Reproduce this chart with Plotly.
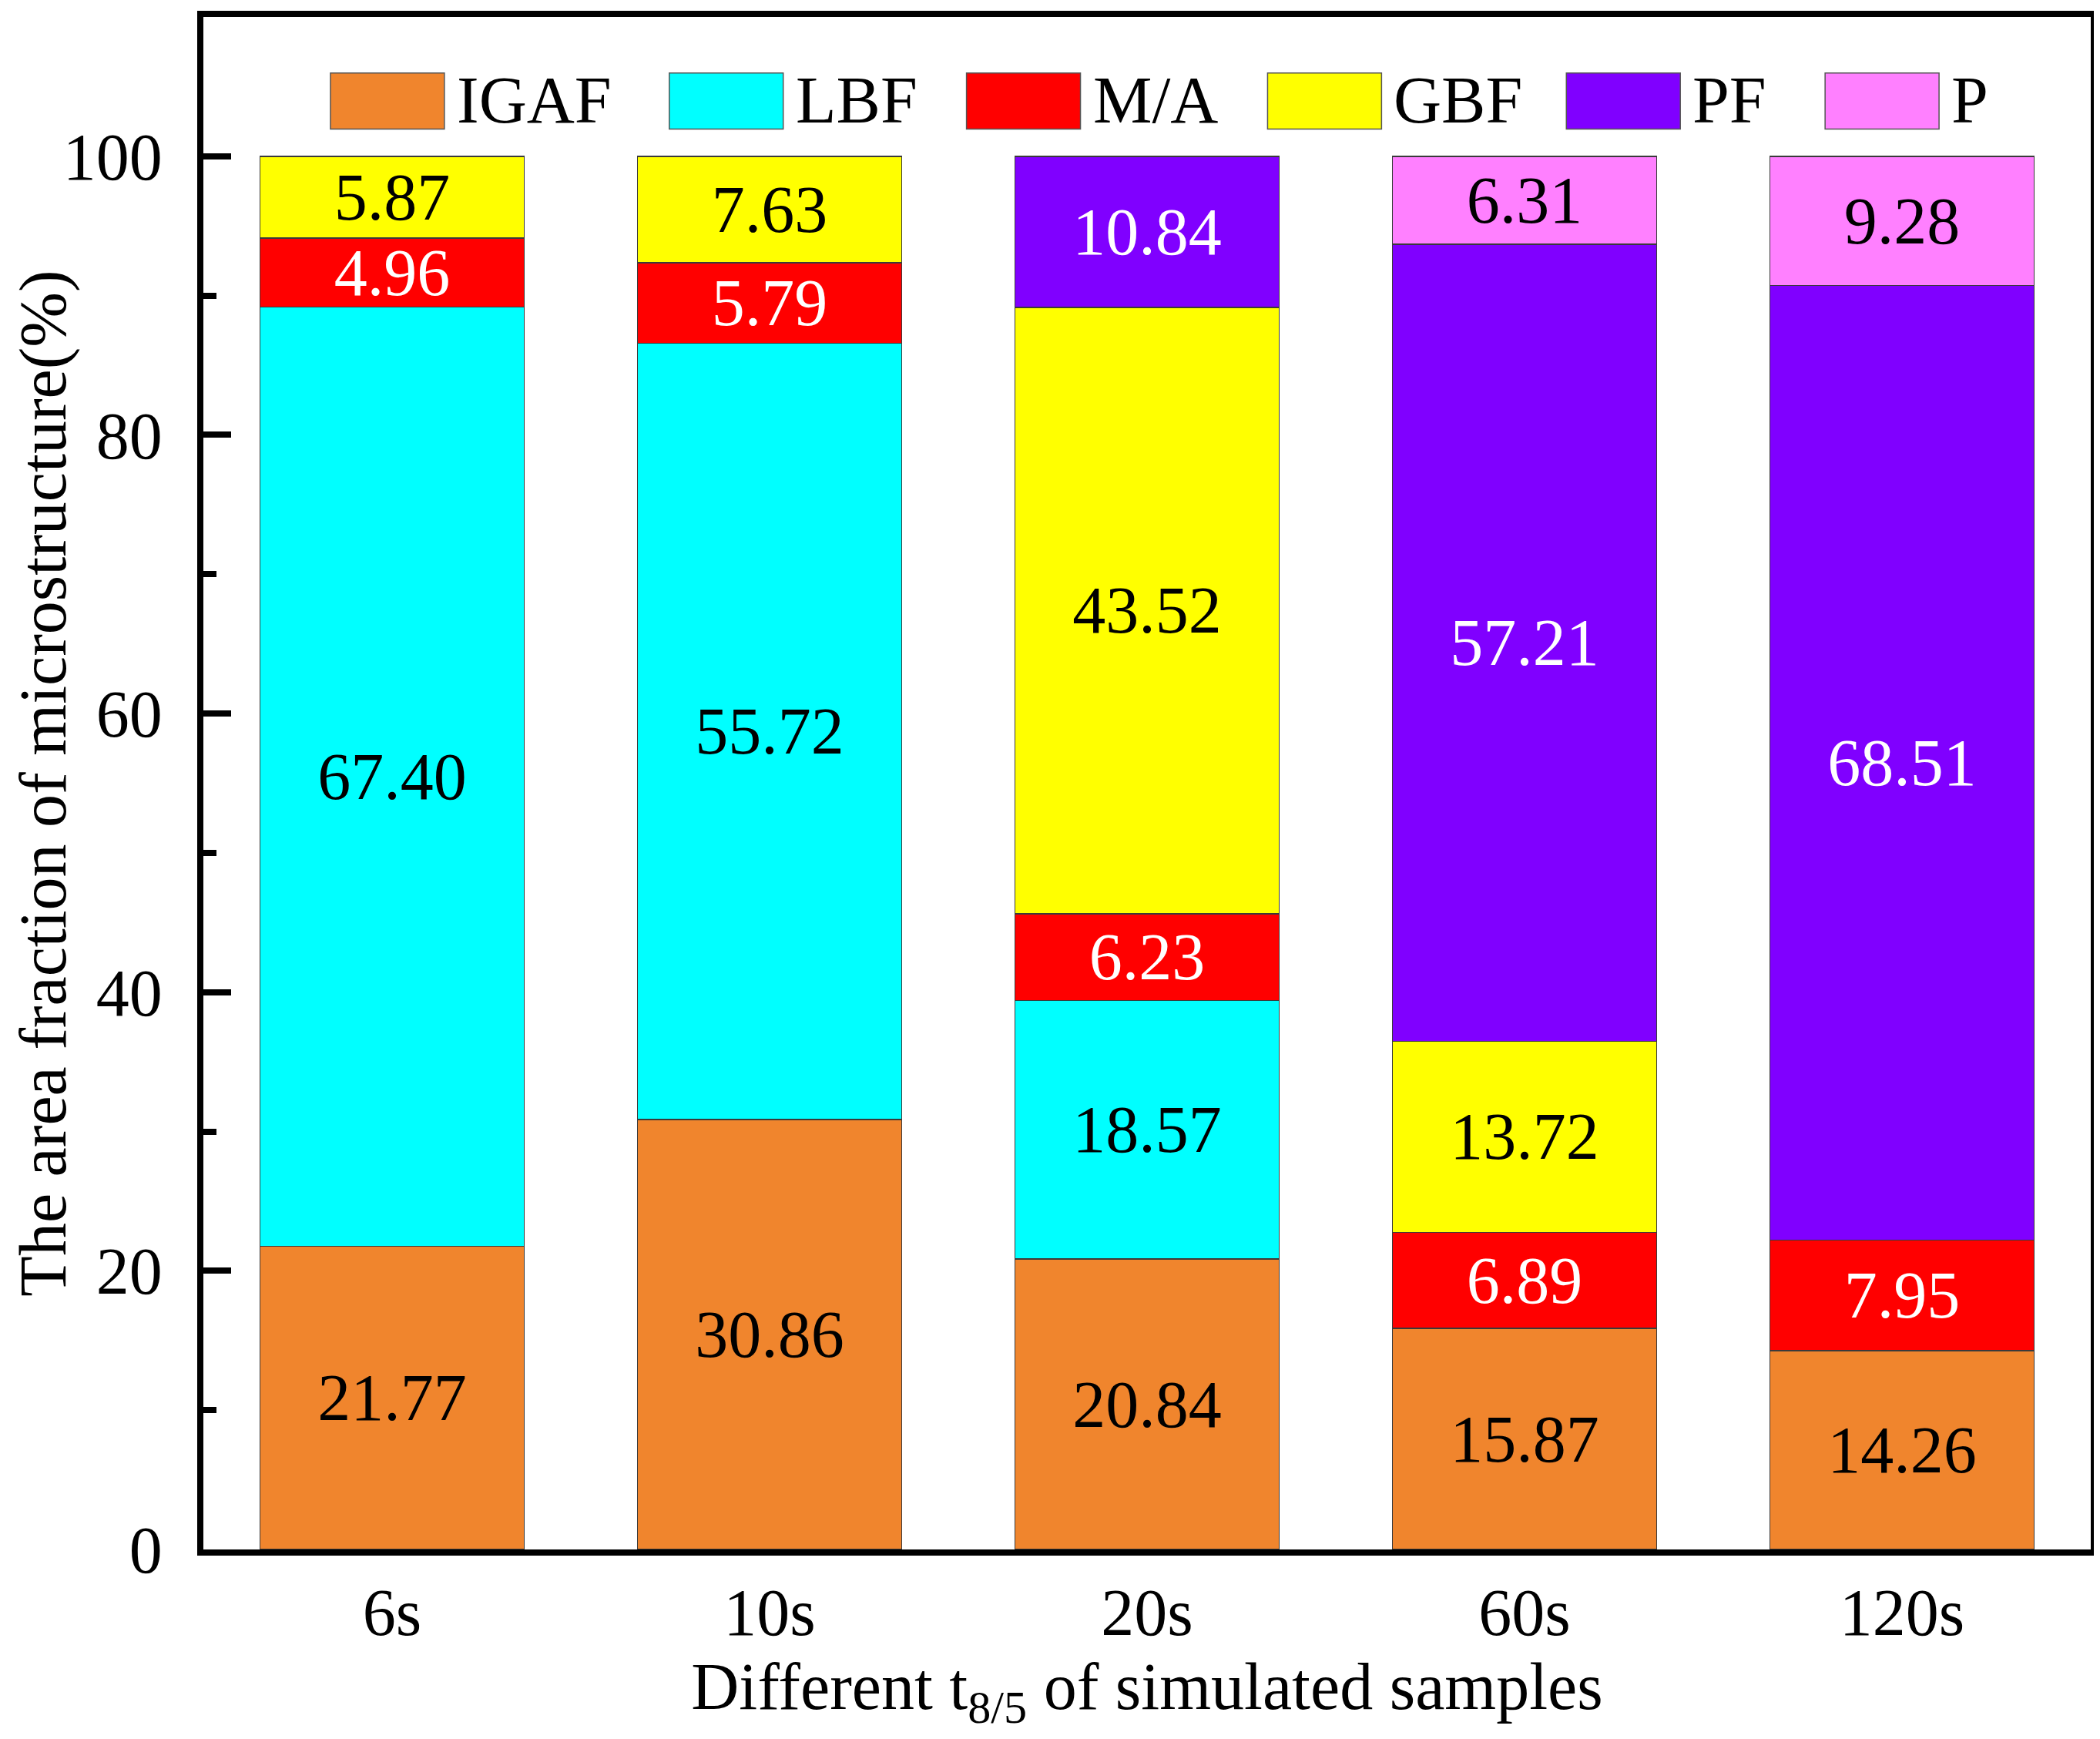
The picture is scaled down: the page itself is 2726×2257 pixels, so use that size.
import plotly.graph_objects as go

# Area fraction (%) of each microstructure per cooling time t8/5
samples = ["6s", "10s", "20s", "60s", "120s"]
igaf = [21.77, 30.86, 20.84, 15.87, 14.26]
lbf = [67.40, 55.72, 18.57, None, None]
ma = [4.96, 5.79, 6.23, 6.89, 7.95]
gbf = [5.87, 7.63, 43.52, 13.72, None]
pf = [None, None, 10.84, 57.21, 68.51]
p = [None, None, None, 6.31, 9.28]

phases = ["IGAF", "LBF", "M/A", "GBF", "PF", "P"]
series = [igaf, lbf, ma, gbf, pf, p]
colors = ["#F0852D", "#00FFFF", "#FF0000", "#FFFF00", "#8000FF", "#FF80FF"]
label_colors = ["black", "black", "white", "black", "white", "black"]

FONT = "Liberation Serif"
FS = 86

W, H = 2726, 2257
# plot edges as seen on screen; page body shifts the figure a bit
L, R, T, B = 263, 12, 18, 242
OFFX, OFFY = 8, 12

fig = go.Figure()
for name, vals, col, tcol in zip(phases, series, colors, label_colors):
    xs = [s for s, v in zip(samples, vals) if v is not None]
    ys = [v for v in vals if v is not None]
    fig.add_trace(go.Bar(x=xs, y=ys, name=name,
                         marker=dict(color=col, line=dict(color="#3a3a3a", width=1.5)),
                         text=[f"{v:.2f}" for v in ys],
                         textposition="inside",
                         insidetextanchor="middle",
                         textangle=0,
                         constraintext="none",
                         insidetextfont=dict(family=FONT, size=FS, color=tcol),
                         showlegend=False))

# hand-drawn legend (big swatches like the original)
def px_x(px):
    return (px - L) / (W - L - R)

def px_y(py):
    return (H - B - py) / (H - B - T)

legend_x = [428, 868, 1254, 1645, 2033, 2369]
sw_w = 148
shapes = []
annotations = []
for x0, name, col in zip(legend_x, phases, colors):
    shapes.append(dict(type="rect", xref="paper", yref="paper",
                       x0=px_x(x0), x1=px_x(x0 + sw_w),
                       y0=px_y(164), y1=px_y(91),
                       fillcolor=col, line=dict(color="#555555", width=1.5)))
    annotations.append(dict(xref="paper", yref="paper",
                            x=px_x(x0 + sw_w + 14), y=px_y(126),
                            xanchor="left", yanchor="middle",
                            text=name, showarrow=False,
                            font=dict(family=FONT, size=FS, color="black")))

fig.update_layout(barmode="stack",
                  bargap=0.3,
                  width=W, height=H,
                  margin=dict(l=L - OFFX, r=R + OFFX, t=T - OFFY, b=B + OFFY),
                  plot_bgcolor="white",
                  paper_bgcolor="white",
                  font=dict(family=FONT, size=FS, color="black"),
                  shapes=shapes,
                  annotations=annotations)

fig.update_xaxes(showline=True, linewidth=8, linecolor="black", mirror=True,
                 ticks="", showgrid=False,
                 tickfont=dict(family=FONT, size=FS),
                 title=dict(text="Different t<sub>8/5</sub> of simulated samples",
                            font=dict(family=FONT, size=FS), standoff=8))

fig.update_yaxes(range=[0, 110], showline=True, linewidth=8, linecolor="black",
                 mirror=True, showgrid=False, zeroline=False,
                 tickvals=[0, 20, 40, 60, 80, 100],
                 ticks="inside", ticklen=36, tickwidth=8, tickcolor="black",
                 ticklabelstandoff=28,
                 minor=dict(tickvals=[10, 30, 50, 70, 90], ticks="inside",
                            ticklen=17, tickwidth=8, tickcolor="black"),
                 tickfont=dict(family=FONT, size=FS),
                 title=dict(text="The area fraction of microstructure(%)",
                            font=dict(family=FONT, size=FS), standoff=8))

fig.write_html("out.html")
